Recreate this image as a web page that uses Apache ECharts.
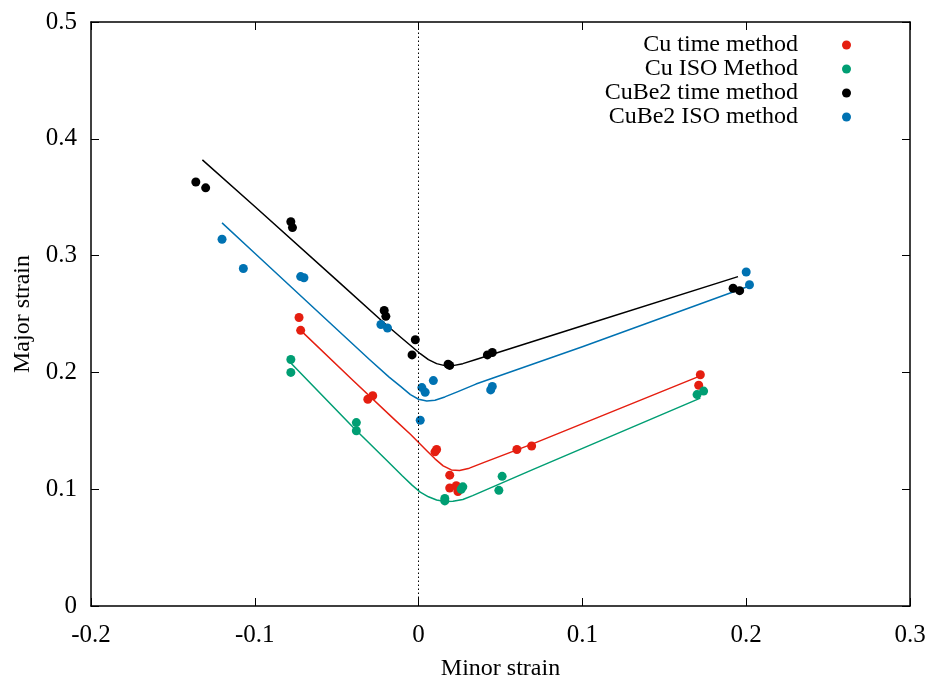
<!DOCTYPE html>
<html><head><meta charset="utf-8">
<script src="https://cdn.jsdelivr.net/npm/echarts@6/dist/echarts.min.js"></script>
<style>html,body{margin:0;padding:0;background:#fff}#c{width:930px;height:679px}</style>
</head><body><div id="c"></div>
<script>
// Series names
const seriesNames = ['Cu time method', 'Cu ISO Method', 'CuBe2 time method', 'CuBe2 ISO method'];
const xTicks = [-0.2, -0.1, 0, 0.1, 0.2, 0.3];
const yTicks = [0, 0.1, 0.2, 0.3, 0.4, 0.5];

// Measured points [minor strain, major strain]
const cuTime = [[-0.073,0.247],[-0.072,0.236],[-0.031,0.177],[-0.028,0.180],[0.010,0.132],[0.011,0.134],
  [0.019,0.112],[0.019,0.101],[0.023,0.103],[0.024,0.098],[0.060,0.134],[0.069,0.137],[0.172,0.198],[0.171,0.189]];
const cuIso = [[-0.078,0.211],[-0.078,0.200],[-0.038,0.157],[-0.038,0.150],[0.016,0.092],[0.016,0.090],
  [0.026,0.100],[0.027,0.102],[0.051,0.111],[0.049,0.099],[0.170,0.181],[0.174,0.184]];
const cube2Time = [[-0.136,0.363],[-0.130,0.358],[-0.078,0.329],[-0.077,0.324],[-0.021,0.253],[-0.020,0.248],
  [-0.002,0.228],[-0.004,0.215],[0.019,0.206],[0.018,0.207],[0.042,0.215],[0.045,0.217],[0.192,0.272],[0.196,0.270]];
const cube2Iso = [[-0.120,0.314],[-0.107,0.289],[-0.072,0.282],[-0.070,0.281],[-0.023,0.241],[-0.019,0.238],
  [0.002,0.187],[0.004,0.183],[0.009,0.193],[0.001,0.159],[0.044,0.185],[0.045,0.188],[0.200,0.286],[0.202,0.275]];

// Fitted curves
const cuTimeFit = [[-0.072,0.236],[-0.04,0.193],[-0.015,0.160],[-0.005,0.147],[0,0.140],[0.005,0.133],[0.010,0.126],
  [0.015,0.120],[0.020,0.1165],[0.025,0.116],[0.031,0.118],[0.04,0.123],[0.07,0.139],[0.172,0.197]];
const cuIsoFit = [[-0.078,0.208],[-0.04,0.153],[-0.02,0.1255],[-0.01,0.1115],[-0.004,0.1035],[0.001,0.0975],[0.006,0.0935],
  [0.011,0.0908],[0.016,0.0895],[0.021,0.0897],[0.027,0.0912],[0.033,0.0945],[0.07,0.117],[0.172,0.178]];
const cube2TimeFit = [[-0.132,0.382],[-0.1,0.342],[-0.05,0.279],[-0.02,0.241],[-0.01,0.229],[-0.004,0.222],[0.001,0.216],
  [0.006,0.211],[0.011,0.2075],[0.016,0.2058],[0.021,0.2058],[0.027,0.2075],[0.035,0.211],[0.1,0.240],[0.195,0.282]];
const cube2IsoFit = [[-0.12,0.328],[-0.1,0.302],[-0.06,0.250],[-0.03,0.211],[-0.018,0.196],[-0.011,0.188],[-0.005,0.181],
  [0,0.177],[0.005,0.1755],[0.010,0.1762],[0.016,0.179],[0.024,0.1835],[0.035,0.190],[0.1,0.222],[0.202,0.274]];

const colors = ['#e51e10', '#009e73', '#000000', '#0072b2'];
const points = [cuTime, cuIso, cube2Time, cube2Iso];
const fits = [cuTimeFit, cuIsoFit, cube2TimeFit, cube2IsoFit];

const FONT = 'Liberation Serif';
const chart = echarts.init(document.getElementById('c'));

const series = [];
fits.forEach((f, i) => {
  series.push({
    type: 'line', data: f, showSymbol: false, symbol: 'none', smooth: false,
    lineStyle: { color: colors[i], width: 1.5, join: 'round' }, silent: true, z: 2,
    markLine: i === 0 ? {
      symbol: 'none', silent: true, label: { show: false },
      lineStyle: { color: '#000', type: [1.5, 2.5], width: 1 },
      data: [{ xAxis: 0 }]
    } : undefined
  });
});
points.forEach((p, i) => {
  series.push({
    name: seriesNames[i], type: 'scatter', data: p, symbol: 'circle', symbolSize: 9,
    itemStyle: { color: colors[i], opacity: 1 }, z: 3
  });
});

const axisCommon = {
  axisLine: { show: true, onZero: false, lineStyle: { color: '#000', width: 1.5 } },
  axisTick: { show: true, inside: true, length: 8, lineStyle: { color: '#000', width: 1 } },
  splitLine: { show: false }
};

chart.setOption({
  animation: false,
  backgroundColor: '#fff',
  color: colors,
  grid: { left: 91, right: 20, top: 22, bottom: 73, show: false, containLabel: false, outerBoundsMode: 'none' },
  legend: {
    data: seriesNames, orient: 'vertical', align: 'right', right: 74, top: 28,
    itemGap: 0, itemWidth: 9, itemHeight: 9, icon: 'circle',
    textStyle: { fontFamily: FONT, fontSize: 24, color: '#000', padding: [0, 39, 0, 0] }
  },
  xAxis: [
    Object.assign({
      type: 'value', min: xTicks[0], max: xTicks[xTicks.length - 1], interval: 0.1, position: 'bottom',
      name: 'Minor strain', nameLocation: 'middle', nameGap: 51,
      nameTextStyle: { fontFamily: FONT, fontSize: 24, color: '#000' },
      axisLabel: { fontFamily: FONT, fontSize: 25, color: '#000', margin: 17 }
    }, axisCommon),
    Object.assign({
      type: 'value', min: xTicks[0], max: xTicks[xTicks.length - 1], interval: 0.1, position: 'top',
      axisLabel: { show: false }
    }, axisCommon)
  ],
  yAxis: [
    Object.assign({
      type: 'value', min: yTicks[0], max: yTicks[yTicks.length - 1], interval: 0.1, position: 'left',
      name: 'Major strain', nameLocation: 'middle', nameGap: 51,
      nameTextStyle: { fontFamily: FONT, fontSize: 24, color: '#000' },
      axisLabel: { fontFamily: FONT, fontSize: 25, color: '#000', margin: 14 }
    }, axisCommon),
    Object.assign({
      type: 'value', min: yTicks[0], max: yTicks[yTicks.length - 1], interval: 0.1, position: 'right',
      axisLabel: { show: false }
    }, axisCommon)
  ],
  series: series
});
</script></body></html>
